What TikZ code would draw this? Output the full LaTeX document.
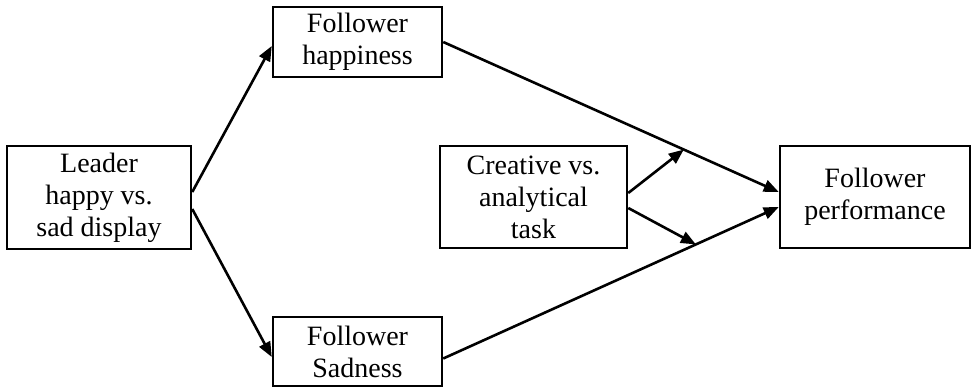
\documentclass[tikz,border=0pt]{standalone}
\usepackage{fontspec}
\setmainfont{Liberation Serif}
\usepackage{tikz}
\usetikzlibrary{arrows.meta,calc}
\tikzset{
  box/.style={draw, line width=1.25pt, align=center, inner sep=0pt,
    font=\fontsize{14}{16}\selectfont},
  link/.style={line width=1.3pt, -{Triangle[length=7.5pt,width=6pt]}}
}

\begin{document}
\begin{tikzpicture}[x=0.5pt,y=-0.5pt]
                \useasboundingbox (0,0) rectangle (971,387);

                % boxes
                \node[box, minimum width=92pt, minimum height=51.5pt] (leader) at (99,197.5) {Leader\\happy vs.\\sad display};
                \node[box, minimum width=84.5pt, minimum height=35pt] (happy) at (357.5,42) {Follower\\happiness};
                \node[box, minimum width=84.5pt, minimum height=34.5pt] (sad) at (357.5,351.5) {Follower\\Sadness};
                \node[box, minimum width=93.5pt, minimum height=51pt] (task) at (533.5,197) {Creative vs.\\analytical\\task};
                \node[box, minimum width=95pt, minimum height=51pt] (perf) at (875,197) {Follower\\performance};

                % leader display to follower emotions
                \draw[link] ([yshift=2.75pt]leader.east) -- ([yshift=-2pt]happy.west);
                \draw[link] ([yshift=-5.75pt]leader.east) -- ([yshift=-2.75pt]sad.west);

                % emotions to performance
                \draw[link] (happy.east) -- ([yshift=2.5pt]perf.west) coordinate[pos=0.717] (modup);
                \draw[link] ([yshift=-3.5pt]sad.east) -- ([yshift=-5pt]perf.west) coordinate[pos=0.753] (moddown);

                % task moderates both paths
                \draw[link] ([yshift=2pt]task.east) -- (modup);
                \draw[link] ([yshift=-5.5pt]task.east) -- (moddown);
\end{tikzpicture}
\end{document}
